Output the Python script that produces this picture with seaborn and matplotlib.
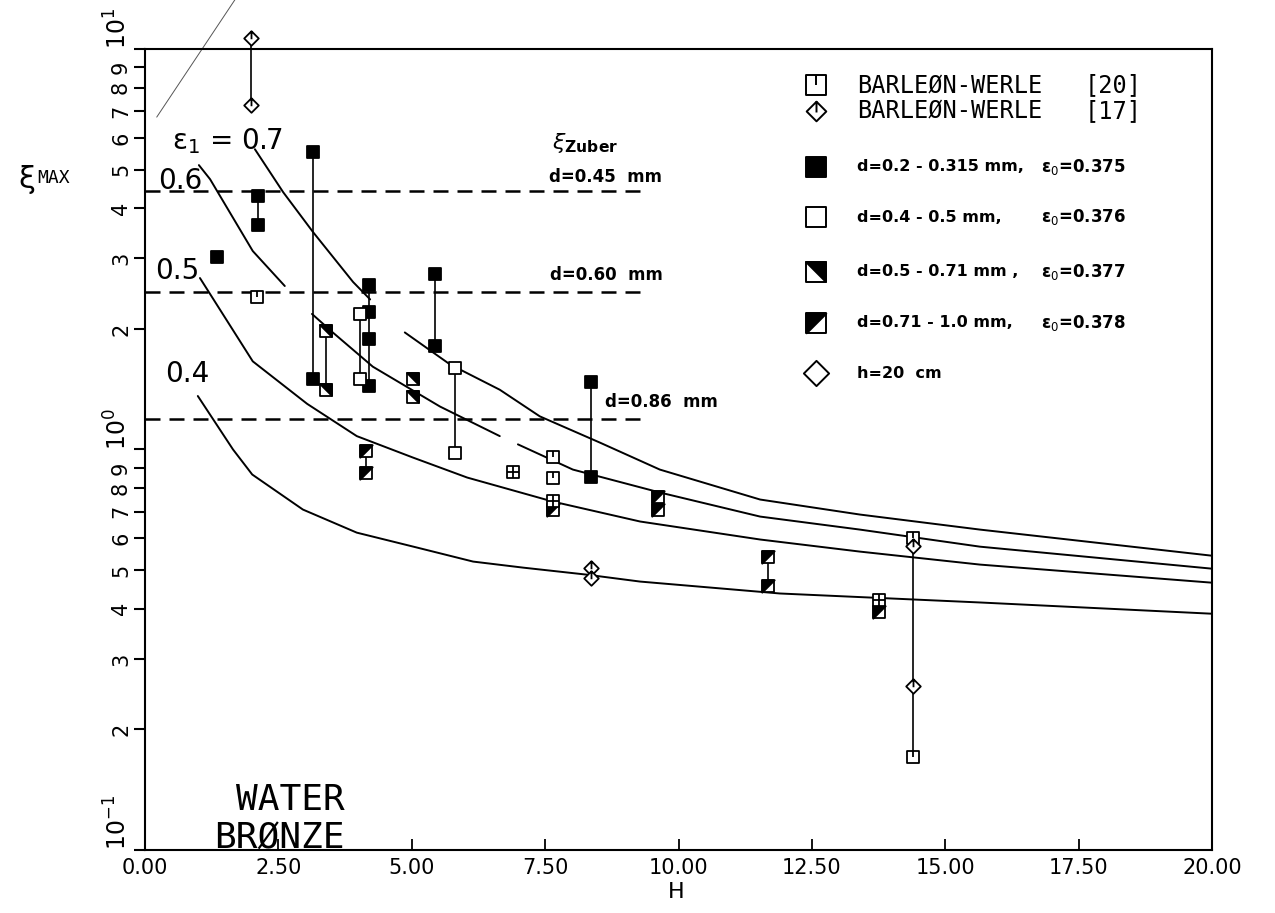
import matplotlib
matplotlib.use("Agg")
import matplotlib.pyplot as plt
from matplotlib.path import Path
from matplotlib.ticker import FixedLocator, FixedFormatter
import numpy as np
import pandas as pd
import seaborn as sns

# ---------------- ε1 parameter curves (H, ξ_max); seg = pen-up breaks ----------------
eps07_H = [2.06, 2.59, 3.15, 3.90, 4.22, 4.87, 5.72, 6.65, 7.40, 8.53, 9.65, 11.53, 13.40, 15.65, 20.0]
eps07_xi = [5.62, 4.39, 3.49, 2.62, 2.37, 1.96, 1.63, 1.41, 1.21, 1.04, 0.891, 0.750, 0.688, 0.631, 0.543]
eps07_seg = [0, 0, 0, 0, 0, 1, 1, 1, 1, 1, 1, 1, 1, 1, 1]

eps06_H = [1.01, 1.22, 2.02, 2.62, 3.13, 3.52, 4.27, 5.53, 6.65, 6.99, 8.02, 9.65, 11.53, 13.40, 15.65, 20.0]
eps06_xi = [5.13, 4.73, 3.13, 2.56, 2.18, 1.96, 1.61, 1.28, 1.08, 1.03, 0.891, 0.781, 0.680, 0.631, 0.572, 0.504]
eps06_seg = [0, 0, 0, 0, 1, 1, 1, 1, 1, 2, 2, 2, 2, 2, 2, 2]

eps05_H = [1.03, 2.02, 3.04, 3.97, 5.02, 6.04, 7.65, 9.28, 11.53, 13.40, 15.65, 20.0]
eps05_xi = [2.68, 1.66, 1.30, 1.08, 0.955, 0.851, 0.741, 0.661, 0.596, 0.556, 0.516, 0.465]
eps05_seg = [0] * 12

eps04_H = [0.99, 1.65, 2.01, 2.96, 3.97, 5.10, 6.15, 7.09, 8.28, 9.28, 11.90, 15.65, 20.0]
eps04_xi = [1.36, 1.0, 0.866, 0.708, 0.620, 0.569, 0.525, 0.507, 0.487, 0.468, 0.437, 0.415, 0.389]
eps04_seg = [0] * 13

# stray pen stroke in the upper-left corner
stray_H = [0.22, 1.69]
stray_xi = [6.76, 13.3]

# ---------------- Zuber limits ----------------
zuber_xi = [4.42, 2.47, 1.195]
zuber_labels = ["d=0.45  mm", "d=0.60  mm", "d=0.86  mm"]
zuber_end_H = 9.43

# ---------------- measurements ----------------
fill_H = [1.35, 2.12, 2.12, 3.15, 3.15, 4.20, 4.20, 4.20, 4.20, 5.44, 5.44, 8.36, 8.36]
fill_xi = [3.02, 4.29, 3.63, 5.53, 1.50, 2.57, 2.21, 1.89, 1.44, 2.75, 1.81, 1.47, 0.856]

open_H = [4.03, 4.03, 5.81, 5.81]
open_xi = [2.18, 1.50, 1.60, 0.98]

half_a_H = [3.39, 3.39, 5.02, 5.02]
half_a_xi = [1.98, 1.41, 1.50, 1.35]

half_b_H = [4.14, 4.14, 7.65, 9.62, 9.62, 11.68, 11.68, 13.76]
half_b_xi = [0.99, 0.876, 0.705, 0.763, 0.708, 0.54, 0.455, 0.394]

bw20_H = [2.10, 7.65, 7.65, 14.40, 14.40]
bw20_xi = [2.40, 0.96, 0.85, 0.60, 0.171]

bw20x_H = [6.90, 7.65, 13.76]
bw20x_xi = [0.88, 0.745, 0.42]

bw17_H = [1.99, 1.99, 8.36, 8.36, 14.40, 14.40]
bw17_xi = [10.65, 7.24, 0.507, 0.479, 0.575, 0.256]

# scatter bands of single runs
range_H = [1.99, 2.12, 3.15, 3.39, 4.03, 4.20, 4.14, 5.44, 5.81, 8.36, 8.36, 9.62, 11.68, 13.76, 14.40]
range_lo = [7.24, 3.63, 1.50, 1.41, 1.50, 1.44, 0.876, 1.81, 0.98, 0.856, 0.479, 0.708, 0.455, 0.394, 0.171]
range_hi = [10.65, 4.29, 5.53, 1.98, 2.18, 2.57, 0.99, 2.75, 1.60, 1.47, 0.507, 0.763, 0.54, 0.42, 0.60]

# ---------------- legend ----------------
legend_kinds = ["bw20", "bw17", "fill", "open", "half_a", "half_b", "h20"]
legend_names = ["BARLEØN-WERLE", "BARLEØN-WERLE", "d=0.2 - 0.315 mm,", "d=0.4 - 0.5 mm,",
                "d=0.5 - 0.71 mm ,", "d=0.71 - 1.0 mm,", "h=20  cm"]
legend_refs = ["[20]", "[17]", "", "", "", "", ""]
legend_eps = ["", "", "ε$_0$=0.375", "ε$_0$=0.376", "ε$_0$=0.377", "ε$_0$=0.378", ""]

x_ticks = [0, 2.5, 5, 7.5, 10, 12.5, 15, 17.5, 20]
y_major = [0.1, 1, 10]
y_major_labels = [r"$10^{-1}$", r"$10^{0}$", r"$10^{1}$"]
y_minor = [0.2, 0.3, 0.4, 0.5, 0.6, 0.7, 0.8, 0.9, 2, 3, 4, 5, 6, 7, 8, 9]
y_minor_labels = ["2", "3", "4", "5", "6", "7", "8", "9"] * 2

# ---------------- marker shapes ----------------
SQ = [(-1, -1), (1, -1), (1, 1), (-1, 1)]
DI = [(0, -1), (1, 0), (0, 1), (-1, 0)]


def make_path(outline, strokes=()):
    verts = list(outline) + [outline[0]]
    codes = [Path.MOVETO] + [Path.LINETO] * (len(outline) - 1) + [Path.CLOSEPOLY]
    for a, b in strokes:
        verts += [a, b]
        codes += [Path.MOVETO, Path.LINETO]
    return Path(verts, codes)


M_SQ = make_path(SQ)
M_B20 = make_path(SQ, [((0, 1), (0, 0))])
M_CROSS = make_path(SQ, [((0, 1), (0, -1)), ((-1, 0), (1, 0))])
M_DI = make_path(DI)
M_B17 = make_path(DI, [((0, 1), (0, -0.1))])
M_TRI_UR = make_path([(-1, 1), (1, 1), (1, -1)])
M_TRI_UL = make_path([(-1, -1), (1, 1), (-1, 1)])

LAYERS = {
    "fill": [(M_SQ, "black")],
    "open": [(M_SQ, "white")],
    "half_a": [(M_SQ, "white"), (M_TRI_UR, "black")],
    "half_b": [(M_SQ, "white"), (M_TRI_UL, "black")],
    "bw20": [(M_B20, "white")],
    "bw20x": [(M_CROSS, "white")],
    "bw17": [(M_B17, "white")],
    "h20": [(M_DI, "white")],
}

# ---------------- figure ----------------
sns.set_theme(style="white")
plt.rcParams["font.family"] = ["DejaVu Sans"]
plt.rcParams["mathtext.fontset"] = "dejavusans"
plt.rcParams.update({"text.color": "black", "axes.labelcolor": "black",
                     "xtick.color": "black", "ytick.color": "black"})

fig = plt.figure(figsize=(12.75, 9.13), dpi=100)
fig.patch.set_facecolor("white")
ax = fig.add_axes([145 / 1275, 63 / 913, 1067 / 1275, 801 / 913])
ax.set_facecolor("white")
ax.set_yscale("log")
ax.set_xlim(0, 20)
ax.set_ylim(0.1, 10)

# parameter curves
frames = []
for name, H, xi, seg in [("0.7", eps07_H, eps07_xi, eps07_seg),
                         ("0.6", eps06_H, eps06_xi, eps06_seg),
                         ("0.5", eps05_H, eps05_xi, eps05_seg),
                         ("0.4", eps04_H, eps04_xi, eps04_seg)]:
    frames.append(pd.DataFrame({"H": H, "xi": xi, "unit": [f"{name}-{s}" for s in seg]}))
curves = pd.concat(frames, ignore_index=True)
sns.lineplot(data=curves, x="H", y="xi", units="unit", estimator=None, sort=False,
             color="black", linewidth=1.4, ax=ax, legend=False)

sns.lineplot(x=stray_H, y=stray_xi, color="#555555", linewidth=0.7, ax=ax, legend=False)
ax.lines[-1].set_clip_on(False)

# Zuber limits
ax.hlines(zuber_xi, 0, zuber_end_H, colors="black", linewidth=1.8,
          linestyles=(0, (6, 3.6)), zorder=2)

# vertical scatter bands
ax.vlines(range_H, range_lo, range_hi, colors="black", linewidth=1.2, zorder=3, clip_on=False)


def draw(H, xi, kind, size=80):
    for path, face in LAYERS[kind]:
        sns.scatterplot(x=H, y=xi, marker=path, s=size, facecolor=face, edgecolor="black",
                        linewidth=1.3, ax=ax, zorder=5, legend=False)
        ax.collections[-1].set_clip_on(False)


draw(fill_H, fill_xi, "fill")
draw(open_H, open_xi, "open")
draw(half_a_H, half_a_xi, "half_a")
draw(half_b_H, half_b_xi, "half_b")
draw(bw20_H, bw20_xi, "bw20")
draw(bw20x_H, bw20x_xi, "bw20x")
draw(bw17_H, bw17_xi, "bw17", size=110)

# ---------------- axes styling ----------------
for sp in ax.spines.values():
    sp.set_color("black")
    sp.set_linewidth(1.5)

ax.set_xticks(x_ticks)
ax.set_xticklabels([f"{v:.2f}" for v in x_ticks])
ax.tick_params(axis="x", direction="in", length=8, width=1.3, labelsize=15, pad=6,
               colors="black", bottom=True, top=False)

ax.yaxis.set_major_locator(FixedLocator(y_major))
ax.yaxis.set_major_formatter(FixedFormatter(y_major_labels))
ax.yaxis.set_minor_locator(FixedLocator(y_minor))
ax.yaxis.set_minor_formatter(FixedFormatter(y_minor_labels))
ax.tick_params(axis="y", which="both", direction="out", length=8, width=1.5,
               labelrotation=90, colors="black", left=True, right=False, pad=2)
ax.tick_params(axis="y", which="major", labelsize=17)
ax.tick_params(axis="y", which="minor", labelsize=15)
for t in ax.yaxis.get_major_ticks():
    t.label1.set_va("bottom")
for t in ax.yaxis.get_minor_ticks():
    t.label1.set_va("center")

ax.set_xlabel("")
ax.set_ylabel("")
fig.text(676 / 1275, 1 - 892 / 913, "H", ha="center", va="center", fontsize=16)
fig.text(18 / 1275, 1 - 180 / 913, "ξ", ha="left", va="center", fontsize=22)
fig.text(37 / 1275, 1 - 178 / 913, "MAX", ha="left", va="center", fontsize=13,
         family="DejaVu Sans Mono")

# ---------------- annotations ----------------
ax.text(0.51, 5.62, "ε$_1$ = 0.7", fontsize=20, ha="left", va="baseline")
ax.text(0.24, 4.47, "0.6", fontsize=20, ha="left", va="baseline")
ax.text(0.19, 2.66, "0.5", fontsize=20, ha="left", va="baseline")
ax.text(0.37, 1.47, "0.4", fontsize=20, ha="left", va="baseline")

ax.text(7.63, 5.62, r"$\xi_{\mathbf{Zuber}}$", fontsize=16, ha="left", va="baseline")
zuber_text_pos = [(7.57, 4.55), (7.59, 2.585), (8.62, 1.245)]
for (hx, hy), lab in zip(zuber_text_pos, zuber_labels):
    ax.text(hx, hy, lab, fontsize=12, fontweight="bold", ha="left", va="bottom")

ax.text(3.75, 0.126, "WATER", fontsize=26, family="DejaVu Sans Mono", ha="right", va="baseline")
ax.text(3.75, 0.1015, "BRØNZE", fontsize=26, family="DejaVu Sans Mono", ha="right", va="baseline")

# ---------------- legend block ----------------
leg_rows_y = [0.955, 0.9226, 0.8527, 0.790, 0.7216, 0.658, 0.5955]
for yv, kind, name, ref, eps in zip(leg_rows_y, legend_kinds, legend_names, legend_refs, legend_eps):
    size = 330 if kind == "h20" else 200
    for path, face in LAYERS[kind]:
        ax.scatter([0.629], [yv], marker=path, s=size, facecolor=face, edgecolor="black",
                   linewidth=1.4, transform=ax.transAxes, clip_on=False, zorder=6)
    if kind in ("bw20", "bw17"):
        ax.text(0.667, yv, name, transform=ax.transAxes, fontsize=17,
                family="DejaVu Sans Mono", ha="left", va="center")
        ax.text(0.881, yv, ref, transform=ax.transAxes, fontsize=17,
                family="DejaVu Sans Mono", ha="left", va="center")
    else:
        ax.text(0.667, yv, name, transform=ax.transAxes, fontsize=11.5,
                fontweight="bold", ha="left", va="center")
        if eps:
            ax.text(0.840, yv, eps, transform=ax.transAxes, fontsize=12,
                    fontweight="bold", ha="left", va="center")

fig.savefig("out.png", dpi=100, facecolor="white")
